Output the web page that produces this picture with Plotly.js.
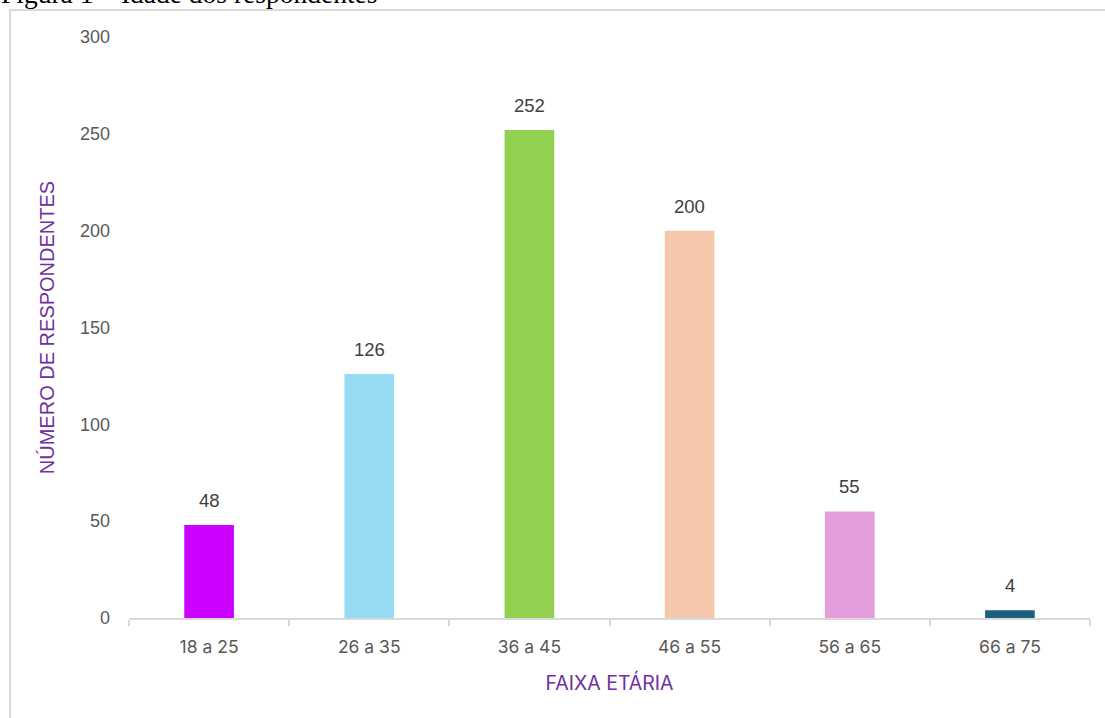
<!DOCTYPE html>
<html>
<head>
<meta charset="utf-8">
<script src="https://cdn.plot.ly/plotly-3.0.1.min.js"></script>
<style>
html,body{margin:0;padding:0;background:#fff;}
#chart{width:1105px;height:718px;}
</style>
</head>
<body>
<div id="chart"></div>
<script>
const categories = ["18 a 25", "26 a 35", "36 a 45", "46 a 55", "56 a 65", "66 a 75"];
const respondents = [48, 126, 252, 200, 55, 4];
const barColors = ["#CC00FF", "#97DBF5", "#92D050", "#F4C6AA", "#E39FDC", "#1B5E7E"];
const yTicks = [0, 50, 100, 150, 200, 250, 300];
const captionText = "Figura 1 – Idade dos respondentes";
const yTitle = "NÚMERO DE RESPONDENTES";
const xTitle = "FAIXA ETÁRIA";

const W = 1105, H = 718;
const m = {l: 129, r: 15, t: 37, b: 100};
const pw = W - m.l - m.r, ph = H - m.t - m.b;
const px = v => (v - m.l) / pw;
const py = v => (H - m.b - v) / ph;

const trace = {
  type: "bar",
  x: categories,
  y: respondents,
  marker: {color: barColors, line: {width: 0}},
  hoverinfo: "none"
};

const labelAnns = categories.map((c, i) => ({
  x: c, y: respondents[i], xref: "x", yref: "y",
  text: String(respondents[i]), showarrow: false,
  yanchor: "bottom", yshift: 12,
  font: {family: "Liberation Sans, Arial, sans-serif", size: 18.5, color: "#404040"}
}));

const layout = {
  width: W, height: H,
  margin: m,
  paper_bgcolor: "#ffffff",
  plot_bgcolor: "#ffffff",
  bargap: 0.69,
  showlegend: false,
  xaxis: {
    type: "category",
    tickson: "boundaries",
    ticks: "outside", ticklen: 6, tickcolor: "#d9d9d9", tickwidth: 2,
    showline: true, linecolor: "#d9d9d9", linewidth: 2,
    showgrid: false, zeroline: false,
    tickfont: {family: "Inter, Liberation Sans, sans-serif", size: 17.5, color: "#595959"},
    ticklabelstandoff: 12,
    title: {text: xTitle, standoff: 20,
      font: {family: "Inter, Liberation Sans, sans-serif", size: 19.5, color: "#7030A0"}},
    fixedrange: true
  },
  yaxis: {
    range: [0, 300],
    tickvals: yTicks,
    showgrid: false, zeroline: false, showline: false,
    ticks: "",
    tickfont: {family: "Liberation Sans, Arial, sans-serif", size: 18, color: "#595959"},
    ticklabelstandoff: 18,
    title: {text: yTitle, standoff: 19,
      font: {family: "Liberation Sans, Arial, sans-serif", size: 20, color: "#7030A0"}},
    fixedrange: true
  },
  shapes: [
    {type: "line", xref: "paper", yref: "paper", x0: px(9), x1: px(1110), y0: py(10), y1: py(10),
     line: {color: "#d9d9d9", width: 2}},
    {type: "line", xref: "paper", yref: "paper", x0: px(10), x1: px(10), y0: py(9), y1: py(720),
     line: {color: "#d9d9d9", width: 2}}
  ],
  annotations: labelAnns.concat([
    {xref: "paper", yref: "paper", x: px(-1), y: py(11), xanchor: "left", yanchor: "bottom",
     text: captionText, showarrow: false,
     font: {family: "Liberation Serif, Times New Roman, serif", size: 27.5, color: "#000000"}}
  ])
};

Plotly.newPlot("chart", [trace], layout, {displayModeBar: false, staticPlot: true});
</script>
</body>
</html>
